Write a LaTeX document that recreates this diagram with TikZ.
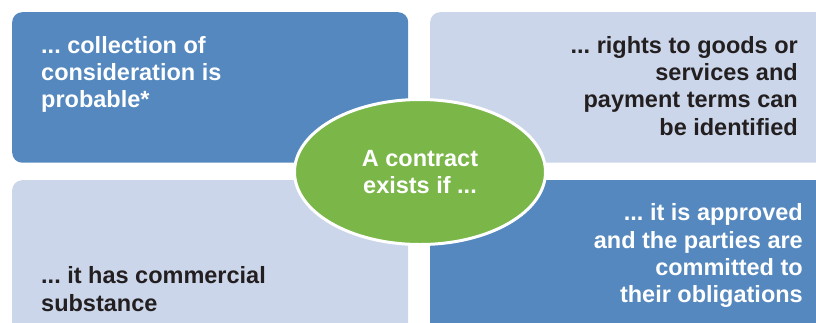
\documentclass[tikz,border=0pt]{standalone}
\usepackage{fontspec}
\setmainfont{Liberation Sans}
\usetikzlibrary{shapes.geometric}
\definecolor{kblue}{HTML}{5488BE}
\definecolor{klight}{HTML}{CBD6EA}
\definecolor{kgreen}{HTML}{7AB648}
\definecolor{kdark}{HTML}{231F20}
\frenchspacing
\begin{document}
\begin{tikzpicture}[x=1pt,y=-1pt,
  panel/.style={draw=none, rounded corners=10pt, inner sep=0pt, anchor=north west},
  darkpanel/.style={panel, fill=kblue},
  lightpanel/.style={panel, fill=klight},
  txt/.style={inner sep=0pt, font=\fontsize{23.5}{27.3}\selectfont\bfseries\frenchspacing},
  hub/.style={ellipse, fill=kgreen, draw=white, line width=3pt, inner sep=0pt,
    minimum width=251pt, minimum height=145pt, text=white, align=center,
    font=\fontsize{23.5}{27.3}\selectfont\bfseries\frenchspacing}]
\useasboundingbox (0,0) rectangle (816,322);
\clip (0,0) rectangle (816,322);
\node[darkpanel, minimum width=396pt, minimum height=150.5pt] (tl) at (12,12) {};
\node[lightpanel, minimum width=420pt, minimum height=150.5pt] (tr) at (430,12) {};
\node[lightpanel, minimum width=396pt, minimum height=170pt] (bl) at (12,180) {};
\node[darkpanel, minimum width=420pt, minimum height=170pt] (br) at (430,180) {};
\node[txt, text=white, align=left, anchor=north west] (tltext) at (41,36)
  {... collection of\\consideration is\\probable*};
\node[txt, text=kdark, align=right, anchor=north east] (trtext) at (798,36)
  {... rights to goods or\\services and\\payment terms can\\be identified};
\node[txt, text=kdark, align=left, anchor=north west] (bltext) at (41,266.5)
  {... it has commercial\\substance};
\node[txt, text=white, align=right, anchor=north east] (brtext) at (803,203.5)
  {... it is approved\\and the parties are\\committed to\\their obligations};
\node[hub] (hub) at (420,172) {A contract\\exists if ...};
\end{tikzpicture}
\end{document}
